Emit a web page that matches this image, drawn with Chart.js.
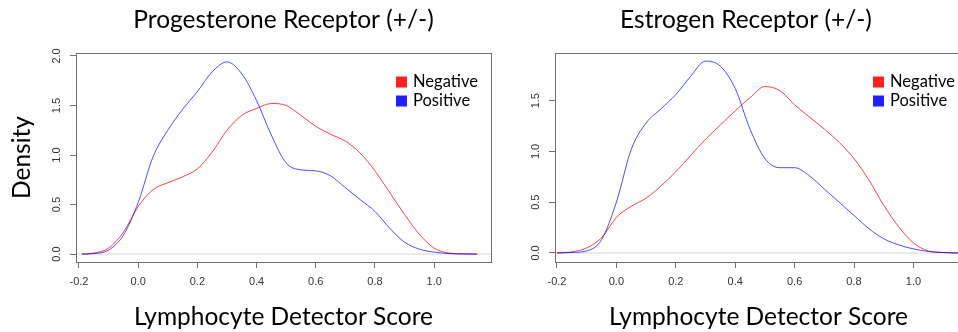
<!DOCTYPE html>
<html lang="en">
<head>
<meta charset="UTF-8">
<title>Lymphocyte Detector Score densities</title>
<script src="https://cdn.jsdelivr.net/npm/chart.js@4.4.0/dist/chart.umd.min.js"></script>
<style>
  html, body { margin: 0; padding: 0; background: #fff; }
  body { width: 958px; height: 332px; position: relative; overflow: hidden; }
  canvas { position: absolute; top: 0; }
  #prChart { left: 0; }
  #erChart { left: 530px; }
</style>
</head>
<body>
<canvas id="prChart" width="566" height="332"></canvas>
<canvas id="erChart" width="432" height="332"></canvas>
<script>
// density curves, values
const prScores   = [-0.19, -0.15, -0.10, -0.05, 0.00, 0.05, 0.10, 0.15, 0.20, 0.25, 0.30, 0.35, 0.40, 0.45,
                    0.50, 0.55, 0.60, 0.65, 0.70, 0.75, 0.80, 0.85, 0.90, 0.95, 1.00, 1.05, 1.10, 1.145];
const prNegative = [0, 0.01, 0.06, 0.22, 0.48, 0.65, 0.72, 0.78, 0.86, 1.03, 1.25, 1.40, 1.47, 1.52,
                    1.50, 1.40, 1.29, 1.21, 1.14, 1.02, 0.84, 0.62, 0.40, 0.20, 0.06, 0.01, 0.003, 0];
const prPositive = [0, 0.005, 0.04, 0.19, 0.52, 0.98, 1.25, 1.46, 1.64, 1.84, 1.94, 1.82, 1.55, 1.20,
                    0.92, 0.85, 0.84, 0.79, 0.67, 0.55, 0.43, 0.26, 0.12, 0.05, 0.02, 0.005, 0.001, 0];

const erScores   = [-0.20, -0.15, -0.10, -0.05, 0.00, 0.05, 0.10, 0.15, 0.20, 0.25, 0.30, 0.35, 0.40, 0.45,
                    0.50, 0.55, 0.60, 0.65, 0.70, 0.75, 0.80, 0.85, 0.90, 0.95, 1.00, 1.05, 1.10, 1.15];
const erNegative = [0, 0.01, 0.05, 0.15, 0.35, 0.46, 0.54, 0.66, 0.80, 0.96, 1.12, 1.26, 1.40, 1.53,
                    1.64, 1.60, 1.46, 1.34, 1.22, 1.09, 0.93, 0.72, 0.47, 0.26, 0.10, 0.02, 0.005, 0];
const erPositive = [0, 0.005, 0.02, 0.13, 0.50, 1.02, 1.28, 1.42, 1.56, 1.74, 1.89, 1.84, 1.62, 1.22,
                    0.93, 0.84, 0.84, 0.76, 0.63, 0.50, 0.37, 0.24, 0.14, 0.08, 0.04, 0.015, 0.004, 0];

const xTicks   = [-0.2, 0.0, 0.2, 0.4, 0.6, 0.8, 1.0];
const prYTicks = [0.0, 0.5, 1.0, 1.5, 2.0];
const erYTicks = [0.0, 0.5, 1.0, 1.5];
const groupNames = ['Negative', 'Positive'];

const bigFont = { family: 'Lato', size: 24.5 };
const tickFont = { family: 'Liberation Sans', size: 11 };
const axisGray = '#707070';

// R-style box around the plot region
const plotBox = {
  id: 'plotBox',
  afterDraw(chart) {
    const a = chart.chartArea, ctx = chart.ctx;
    ctx.save();
    ctx.strokeStyle = axisGray;
    ctx.lineWidth = 1;
    ctx.strokeRect(Math.round(a.left) + 0.5, Math.round(a.top) + 0.5,
                   Math.round(a.right - a.left), Math.round(a.bottom - a.top));
    ctx.restore();
  }
};

// legend in the top right corner, square swatches
const cornerLegend = {
  id: 'cornerLegend',
  afterDatasetsDraw(chart, args, opts) {
    const ctx = chart.ctx;
    ctx.save();
    ctx.font = '16.5px Lato';
    ctx.textBaseline = 'middle';
    chart.data.datasets.filter(d => d.label).forEach((d, i) => {
      const y = opts.y + i * 19;
      ctx.fillStyle = d.swatch;
      ctx.fillRect(opts.x, y - 5.5, 11, 11);
      ctx.fillStyle = '#000';
      ctx.fillText(d.label, opts.x + 17, y);
    });
    ctx.restore();
  }
};

function pts(xs, ys) {
  return xs.map((x, i) => ({ x: x, y: ys[i] }));
}

function makeChart(id, cfg) {
  return new Chart(document.getElementById(id), {
    type: 'line',
    data: {
      datasets: [
        { label: groupNames[0], data: pts(cfg.xs, cfg.neg), borderColor: 'rgba(255,0,0,0.75)', swatch: '#ff2020', order: 1 },
        { label: groupNames[1], data: pts(cfg.xs, cfg.pos), borderColor: 'rgba(0,0,255,0.7)', swatch: '#2020ff', order: 0 },
        { data: [{ x: cfg.xMin, y: 0 }, { x: cfg.xMax, y: 0 }], borderColor: '#d6d6d6', order: 5 }
      ]
    },
    options: {
      responsive: false,
      animation: false,
      layout: { padding: { right: cfg.padRight } },
      elements: {
        point: { radius: 0 },
        line: { borderWidth: 1, cubicInterpolationMode: 'monotone' }
      },
      scales: {
        x: {
          type: 'linear',
          min: cfg.xMin, max: cfg.xMax,
          afterBuildTicks: s => { s.ticks = xTicks.map(v => ({ value: v })); },
          afterFit: s => { s.height = 70; },
          border: { display: false },
          grid: { drawOnChartArea: false, tickLength: 6, color: axisGray },
          ticks: { font: tickFont, color: '#333', padding: 7, maxRotation: 0, autoSkip: false,
                   callback: v => v.toFixed(1) },
          title: { display: true, text: 'Lymphocyte Detector Score', font: bigFont, color: '#000',
                   padding: { top: 0, bottom: 0 } }
        },
        y: {
          min: cfg.yMin, max: cfg.yMax,
          afterBuildTicks: s => { s.ticks = cfg.yTicks.map(v => ({ value: v })); },
          afterFit: s => { s.width = cfg.yWidth; },
          border: { display: false },
          grid: { drawOnChartArea: false, tickLength: 6, color: axisGray },
          ticks: { font: tickFont, color: '#333', padding: 5, minRotation: 90, maxRotation: 90,
                   crossAlign: 'center', callback: v => v.toFixed(1) },
          title: { display: cfg.yTitle, text: 'Density', font: bigFont, color: '#000', padding: { top: 7 } }
        }
      },
      plugins: {
        legend: { display: false },
        tooltip: { enabled: false },
        title: { display: true, text: cfg.title, font: { family: 'Lato', size: 24.5, weight: 'normal' },
                 color: '#000', fullSize: cfg.fullTitle, padding: { top: 5, bottom: 18.6 } },
        cornerLegend: cfg.legend
      }
    },
    plugins: [plotBox, cornerLegend]
  });
}

makeChart('prChart', {
  title: 'Progesterone Receptor (+/-)', xs: prScores, neg: prNegative, pos: prPositive,
  xMin: -0.21, xMax: 1.192, yMin: -0.08, yMax: 2.03, yTicks: prYTicks,
  yWidth: 76, padRight: 75, yTitle: true, fullTitle: false, legend: { x: 396, y: 82 }
});

makeChart('erChart', {
  title: 'Estrogen Receptor (+/-)', xs: erScores, neg: erNegative, pos: erPositive,
  xMin: -0.2067, xMax: 1.1636, yMin: -0.089, yMax: 1.97, yTicks: erYTicks,
  yWidth: 25, padRight: 0, yTitle: false, fullTitle: true, legend: { x: 343, y: 82 }
});
</script>
</body>
</html>
